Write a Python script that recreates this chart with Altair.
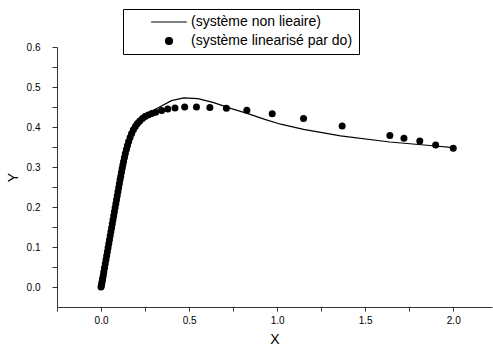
import altair as alt
import pandas as pd

LAB_LINE = "(système non lieaire)"
LAB_DOTS = "(système linearisé par do)"

# continuous curve (système non linéaire)
line_x = [0.000, 0.040, 0.080, 0.120, 0.140, 0.160, 0.190, 0.230, 0.280, 0.340, 0.400,
          0.470, 0.550, 0.640, 0.740, 0.830, 0.930, 1.020, 1.150, 1.360, 1.640, 1.900, 2.000]
line_y = [0.000, 0.100, 0.200, 0.300, 0.350, 0.385, 0.410, 0.425, 0.437, 0.452, 0.466,
          0.473, 0.471, 0.461, 0.446, 0.434, 0.419, 0.407, 0.394, 0.378, 0.3625, 0.3525, 0.3485]

# dots (système linéarisé)
dot_x = [0.000, 0.002, 0.004, 0.006, 0.008, 0.010, 0.013, 0.016, 0.020, 0.024, 0.028, 0.032,
         0.036, 0.040, 0.044, 0.048, 0.052, 0.056, 0.060, 0.064, 0.068, 0.072, 0.076, 0.080,
         0.084, 0.088, 0.092, 0.096, 0.100, 0.104, 0.108, 0.112, 0.116, 0.120, 0.124, 0.128,
         0.133, 0.138, 0.144, 0.150, 0.157, 0.165, 0.174, 0.184, 0.195, 0.207, 0.220, 0.235,
         0.250, 0.268, 0.288, 0.310, 0.344, 0.379, 0.420, 0.475, 0.542, 0.618, 0.712, 0.828,
         0.972, 1.150, 1.369, 1.640, 1.720, 1.810, 1.900, 2.000]
dot_y = [0.000, 0.004, 0.008, 0.013, 0.018, 0.023, 0.030, 0.038, 0.048, 0.058, 0.068, 0.078,
         0.088, 0.098, 0.108, 0.118, 0.128, 0.138, 0.148, 0.158, 0.168, 0.178, 0.188, 0.198,
         0.208, 0.218, 0.228, 0.238, 0.248, 0.258, 0.268, 0.277, 0.287, 0.296, 0.305, 0.314,
         0.324, 0.334, 0.344, 0.354, 0.364, 0.374, 0.384, 0.393, 0.401, 0.409, 0.415, 0.421,
         0.426, 0.430, 0.434, 0.437, 0.441, 0.445, 0.4475, 0.450, 0.450, 0.449, 0.447, 0.442,
         0.433, 0.421, 0.4025, 0.379, 0.372, 0.365, 0.355, 0.347]

x_ticks = [-0.25, 0.0, 0.25, 0.5, 0.75, 1.0, 1.25, 1.5, 1.75, 2.0]
y_ticks = [0.0, 0.05, 0.1, 0.15, 0.2, 0.25, 0.3, 0.35, 0.4, 0.45, 0.5, 0.55, 0.6]

line_df = pd.DataFrame({"x": line_x, "y": line_y, "serie": LAB_LINE})
dot_df = pd.DataFrame({"x": dot_x, "y": dot_y, "serie": LAB_DOTS})

FONT = "Liberation Sans"

x_enc = alt.X("x:Q", scale=alt.Scale(domain=[-0.25, 2.22], nice=False, zero=False),
              axis=alt.Axis(title="X", values=x_ticks, grid=False,
                            labelExpr="abs(datum.value*2 - round(datum.value*2)) < 0.001 ? format(datum.value, '.1f') : ''",
                            tickSize=4, labelPadding=4, titlePadding=7))
y_enc = alt.Y("y:Q", scale=alt.Scale(domain=[-0.05, 0.6], nice=False, zero=False),
              axis=alt.Axis(title="Y", values=y_ticks, grid=False,
                            labelExpr="abs(datum.value*10 - round(datum.value*10)) < 0.001 ? format(datum.value, '.1f') : ''",
                            tickSize=5, labelPadding=12, titlePadding=6))

line = alt.Chart(line_df).mark_line(color="black", strokeWidth=1.2).encode(
    x=x_enc, y=y_enc
)

legend = alt.Legend(
    title=None, orient="none", legendX=66, legendY=-38,
    strokeColor="black", fillColor="white", padding=6,
    symbolOffset=33, labelOffset=15, rowPadding=5,
    symbolStrokeColor="black", symbolStrokeWidth=1.2, symbolSize=49,
    labelFont=FONT, labelFontSize=14, labelColor="black", labelLimit=400,
    labelExpr="datum.label + '\u00a0\u00a0\u00a0\u00a0\u00a0\u00a0\u00a0\u00a0\u00a0\u00a0\u00a0'",
)

dots = alt.Chart(dot_df).mark_point(filled=True, size=49, opacity=1).encode(
    x=x_enc, y=y_enc,
    color=alt.Color("serie:N", scale=alt.Scale(domain=[LAB_LINE, LAB_DOTS], range=["black", "black"]), legend=legend),
    shape=alt.Shape("serie:N", scale=alt.Scale(domain=[LAB_LINE, LAB_DOTS], range=["M-5.1,0H5.1", "circle"]), legend=legend),
)

chart = alt.layer(line, dots).properties(
    width=435, height=260,
    autosize=alt.AutoSizeParams(type="none"),
    padding={"left": 57, "top": 47, "right": 1, "bottom": 43},
    background="white",
).configure_view(stroke=None).configure_axis(
    domainColor="#333", tickColor="#333", labelFont=FONT, titleFont=FONT,
    labelFontSize=10, labelColor="black", titleFontSize=14, titleFontWeight="normal",
    titleColor="black",
)

chart.save("out.html", embed_options={"renderer": "svg", "actions": False})
